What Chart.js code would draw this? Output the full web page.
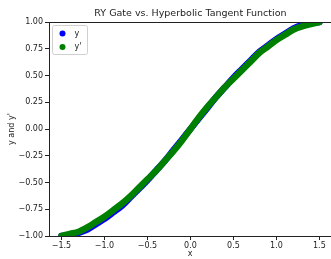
<!DOCTYPE html>
<html>
<head>
<meta charset="utf-8">
<script src="https://cdn.jsdelivr.net/npm/chart.js@4"></script>
<style>
    html, body { margin: 0; padding: 0; background: #fff; }
    #wrap { width: 331px; height: 259px; }
</style>
</head>
<body>
<div id="wrap"><canvas id="myChart" width="331" height="259"></canvas></div>
<script>
"use strict"

const chartTitle = "RY Gate vs. Hyperbolic Tangent Function";
const xValues = [-1.5, -1.4, -1.3, -1.2, -1.1, -1.0, -0.9, -0.8, -0.7, -0.6, -0.5, -0.4, -0.3, -0.2, -0.1,
    0.0, 0.1, 0.2, 0.3, 0.4, 0.5, 0.6, 0.7, 0.8, 0.9, 1.0, 1.1, 1.2, 1.3, 1.4, 1.5];
const yValues = [-1.00, -0.99, -0.97, -0.94, -0.89, -0.84, -0.78, -0.72, -0.64, -0.56, -0.48, -0.39, -0.30, -0.20, -0.10,
    0.00, 0.10, 0.20, 0.30, 0.39, 0.48, 0.56, 0.64, 0.72, 0.78, 0.84, 0.89, 0.94, 0.97, 0.99, 1.00];
const yPrimeValues = [-1.00, -0.98, -0.96, -0.92, -0.87, -0.82, -0.76, -0.70, -0.63, -0.55, -0.47, -0.39, -0.30, -0.21, -0.11,
    0.00, 0.11, 0.21, 0.30, 0.39, 0.47, 0.55, 0.63, 0.71, 0.77, 0.83, 0.88, 0.93, 0.96, 0.98, 1.00];
const xTicks = [-1.5, -1.0, -0.5, 0.0, 0.5, 1.0, 1.5];
const yTicks = [-1.0, -0.75, -0.5, -0.25, 0.0, 0.25, 0.5, 0.75, 1.0];

const fmt = (v, d) => v.toFixed(d).replace("-", "\u2212");
const font = "DejaVu Sans";

// title, top spine and legend drawn like matplotlib does
const extras = {
    id: "extras",
    afterDraw(chart) {
        const ctx = chart.ctx;
        const area = chart.chartArea;
        const xs = chart.scales.x;
        ctx.save();
        ctx.strokeStyle = "#222";
        ctx.lineWidth = 1;
        ctx.beginPath();
        ctx.moveTo(area.left, area.top + 0.5);
        ctx.lineTo(area.right, area.top + 0.5);
        ctx.stroke();

        ctx.fillStyle = "#222";
        ctx.font = "9.5px '" + font + "'";
        ctx.textAlign = "center";
        ctx.textBaseline = "middle";
        ctx.fillText(chartTitle, xs.getPixelForValue(0), 14);

        // legend box
        const bx = area.left + 3.5, by = area.top + 3.5, bw = 35, bh = 29;
        ctx.fillStyle = "rgba(255,255,255,0.8)";
        ctx.strokeStyle = "#d0d0d0";
        ctx.beginPath();
        ctx.roundRect(bx, by, bw, bh, 2);
        ctx.fill();
        ctx.stroke();
        const items = [chart.data.datasets[0], chart.data.datasets[1]];
        items.forEach((ds, i) => {
            const cy = by + 8 + i * 13.5;
            ctx.fillStyle = ds.borderColor;
            ctx.beginPath();
            ctx.arc(bx + 10, cy, 3, 0, Math.PI * 2);
            ctx.fill();
            ctx.fillStyle = "#222";
            ctx.font = "8px '" + font + "'";
            ctx.textAlign = "left";
            ctx.fillText(ds.label, bx + 22, cy);
        });
        ctx.restore();
    }
};

const ctx = document.getElementById("myChart").getContext("2d");

new Chart(ctx, {
    type: "scatter",
    data: {
        datasets: [{
            label: "y",
            data: xValues.map((x, i) => ({ x: x, y: yValues[i] })),
            showLine: true,
            order: 2,
            borderColor: "#0000ff",
            backgroundColor: "#0000ff",
            borderWidth: 6.5,
            pointRadius: 0,
            cubicInterpolationMode: "monotone",
            borderCapStyle: "round"
        }, {
            label: "y'",
            data: xValues.map((x, i) => ({ x: x, y: yPrimeValues[i] })),
            showLine: true,
            order: 1,
            borderColor: "#008000",
            backgroundColor: "#008000",
            borderWidth: 6.5,
            pointRadius: 0,
            cubicInterpolationMode: "monotone",
            borderCapStyle: "round"
        }]
    },
    options: {
        responsive: false,
        animation: false,
        layout: {
            padding: { top: 22, right: 0, bottom: 0, left: 0 }
        },
        scales: {
            x: {
                type: "linear",
                min: -1.645,
                max: 1.635,
                afterBuildTicks: (scale) => { scale.ticks = xTicks.map(v => ({ value: v })); },
                afterFit: (scale) => { scale.height = 23; scale.paddingLeft = 0; scale.paddingRight = 0; },
                grid: { display: true, drawOnChartArea: false, tickLength: 4, color: "#222" },
                border: { display: true, color: "#222", width: 1 },
                ticks: {
                    padding: 1,
                    maxRotation: 0,
                    color: "#222",
                    font: { family: font, size: 8 },
                    callback: (v) => fmt(v, 1)
                },
                title: {
                    display: true,
                    text: "x",
                    color: "#222",
                    padding: 0,
                    font: { family: font, size: 8 }
                }
            },
            y: {
                min: -1,
                max: 1,
                afterBuildTicks: (scale) => { scale.ticks = yTicks.map(v => ({ value: v })); },
                afterFit: (scale) => { scale.width = 49; },
                grid: { display: true, drawOnChartArea: false, tickLength: 4, color: "#222" },
                border: { display: true, color: "#222", width: 1 },
                ticks: {
                    padding: 2,
                    color: "#222",
                    font: { family: font, size: 8 },
                    callback: (v) => fmt(v, 2)
                },
                title: {
                    display: true,
                    text: "y and y'",
                    color: "#222",
                    padding: { top: 7, bottom: 0 },
                    font: { family: font, size: 8 }
                }
            }
        },
        plugins: {
            legend: { display: false },
            tooltip: { enabled: false }
        }
    },
    plugins: [extras]
});
</script>
</body>
</html>
